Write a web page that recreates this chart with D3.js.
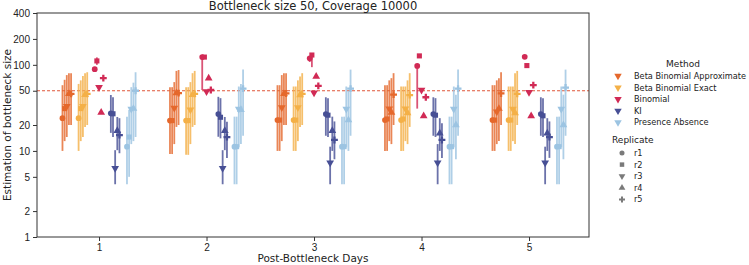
<!DOCTYPE html>
<html>
<head>
<meta charset="utf-8">
<script src="https://cdn.jsdelivr.net/npm/d3@7"></script>
<style>
  body { margin: 0; background: #fff; }
  svg { font-family: 'DejaVu Sans', sans-serif; }
  .axis text { font-size: 10px; fill: #222; }
  .axis path, .axis line { stroke: #333; }
</style>
</head>
<body>
<svg id="chart" width="749" height="265"></svg>
<script>
const days = [1, 2, 3, 4, 5];
const methods = ['Beta Binomial Approximate', 'Beta Binomial Exact', 'Binomial', 'KI', 'Presence Absence'];
const replicates = ['r1', 'r2', 'r3', 'r4', 'r5'];
const yTicks = [1, 2, 5, 10, 20, 50, 100, 200, 400];
const trueSize = 50;

// estimates [day][replicate]
const bbaEst = [[24, 31, 33, 46, 46], [22.5, 22.5, 31.5, 47, 47], [22.8, 22.8, 32, 46, 46.5], [22.8, 23.5, 31, 28, 45], [22.8, 22.8, 28.5, 31, 46.5]];
const bbaLo  = [[10, 13, 14.5, 20, 20], [9.2, 9.2, 12, 19, 20], [10, 10, 13, 20, 20], [10, 10, 13, 12, 20], [10, 10, 12, 13, 20]];
const bbaHi  = [[58, 67, 76, 80, 80], [55, 55, 63, 85, 87], [58, 58, 76, 80, 80], [58, 58, 66, 70, 80], [58, 58, 66, 70, 82]];

const bbeEst = [[24, 31, 33, 45, 46], [22.5, 22.5, 30, 45, 46], [22.8, 22.8, 32, 44.6, 46], [22.8, 23.5, 31, 27.5, 44.6], [22.8, 22.8, 30.6, 27.5, 46]];
const bbeLo  = [[10, 13, 14.5, 19, 20], [9, 9, 12, 19, 20], [10, 10, 13, 19, 20], [10, 10, 13, 12, 19], [10, 10, 13, 12, 20]];
const bbeHi  = [[60, 66, 74, 80, 82], [55, 55, 63, 80, 85], [56, 56, 66, 73, 80], [56, 56, 56, 66, 80], [56, 56, 56, 80, 85]];

const binEst = [[89, 111, 55, 28, 70], [123, 123, 49, 70, 51], [119, 130, 47.4, 73, 57], [97, 127, 51, 25.4, 42], [124, 98, 48, 25.4, 58]];
const binLo  = [[89, 100, 55, 28, 70], [51, 123, 49, 70, 51], [108, 94, 47.4, 73, 57], [31, 127, 51, 25.4, 42], [124, 98, 48, 25.4, 58]];
const binHi  = [[89, 122, 55, 28, 70], [123, 123, 49, 70, 51], [125, 137, 47.4, 73, 57], [97, 127, 51, 25.4, 42], [124, 98, 48, 25.4, 58]];

const kiEst = [[27.3, 27, 6.3, 17.2, 15.3], [26.8, 24.6, 6.3, 17.2, 14.5], [26.8, 26, 7.3, 17.2, 13.4], [26.8, 26, 7.3, 16, 13.4], [26.8, 25.6, 7.3, 16, 14.5]];
const kiLo  = [[16.2, 14.5, 4.1, 10.2, 9.4], [14.6, 14, 4.1, 10.2, 8.3], [15, 14.5, 4.1, 10, 8], [15, 14.5, 4.1, 10, 8.3], [15, 14.5, 4.1, 10, 8.3]];
const kiHi  = [[44.6, 42, 10.2, 24.8, 24], [42.5, 41, 10.2, 24.8, 21.8], [42, 41, 11.2, 25, 22], [42, 41, 12, 24, 21], [42, 41, 11.2, 24, 22]];

const paEst = [[11.2, 14.5, 30.7, 31, 50], [11.2, 11.2, 30.6, 30, 53], [11.2, 11.2, 30.6, 22.8, 53], [11.2, 11.2, 30.6, 20, 53], [11.2, 11.2, 30.6, 20, 54.5]];
const paLo  = [[4.1, 5, 12, 13, 14.5], [4.1, 4.1, 11, 12, 15], [4.1, 4.1, 11, 10, 15], [4.1, 4.1, 11, 8, 15], [4.1, 4.1, 11, 8, 15]];
const paHi  = [[25, 30, 55, 62, 82], [25, 25, 56, 60, 88], [25, 25, 56, 50, 88], [25, 25, 56, 45, 88], [25, 25, 56, 45, 88]];

const methodEst = [bbaEst, bbeEst, binEst, kiEst, paEst];
const methodLo = [bbaLo, bbeLo, binLo, kiLo, paLo];
const methodHi = [bbaHi, bbeHi, binHi, kiHi, paHi];
const colors = ['#e5682c', '#f4b047', '#d12a55', '#474f95', '#9cc4e2'];
const shapes = [d3.symbolCircle, d3.symbolSquare, 'down', d3.symbolTriangle, d3.symbolCross];

const margin = { top: 13, right: 160, bottom: 28, left: 37 };
const width = 749, height = 265;
const svg = d3.select('#chart');

const x = d3.scaleLinear().domain([0.423, 5.558]).range([margin.left, width - margin.right]);
const y = d3.scaleLog().domain([1, 400]).range([height - margin.bottom, margin.top]);

let rows = [];
methods.forEach((m, mi) => {
  days.forEach((d, di) => {
    replicates.forEach((r, ri) => {
      rows.push({
        method: mi, rep: ri,
        x: d + (mi - 2) * 0.15 + (ri - 2) * 0.02,
        est: methodEst[mi][di][ri], lo: methodLo[mi][di][ri], hi: methodHi[mi][di][ri]
      });
    });
  });
});

function symbolPath(ri, size) {
  const s = shapes[ri];
  if (s === 'down') return d3.symbol(d3.symbolTriangle, size)();
  return d3.symbol(s, size)();
}
function symbolRot(ri) { return shapes[ri] === 'down' ? ' rotate(180)' : ''; }

// dashed true size line
svg.append('line')
  .attr('x1', margin.left).attr('x2', width - margin.right)
  .attr('y1', y(trueSize)).attr('y2', y(trueSize))
  .attr('stroke', '#e0573a').attr('stroke-width', 1.1)
  .attr('stroke-dasharray', '3,2');

const g = svg.append('g');
g.selectAll('line.err')
  .data(rows)
  .join('line')
  .attr('class', 'err')
  .attr('x1', d => x(d.x)).attr('x2', d => x(d.x))
  .attr('y1', d => y(d.lo)).attr('y2', d => y(d.hi))
  .attr('stroke', d => colors[d.method])
  .attr('stroke-width', 1.8)
  .attr('opacity', 0.8);

g.selectAll('path.pt')
  .data(rows)
  .join('path')
  .attr('class', 'pt')
  .attr('d', d => symbolPath(d.rep, 26))
  .attr('transform', d => 'translate(' + x(d.x) + ',' + y(d.est) + ')' + symbolRot(d.rep))
  .attr('fill', d => colors[d.method]);

// axes
svg.append('g').attr('class', 'axis')
  .attr('transform', 'translate(' + margin.left + ',0)')
  .call(d3.axisLeft(y).tickValues(yTicks).tickFormat(d3.format('d')).tickSize(4).tickPadding(3));
svg.append('g').attr('class', 'axis')
  .attr('transform', 'translate(0,' + (height - margin.bottom) + ')')
  .call(d3.axisBottom(x).tickValues(days).tickFormat(d3.format('d')).tickSize(4).tickPadding(3));
svg.selectAll('.axis .domain').remove();

svg.append('rect')
  .attr('x', margin.left).attr('y', margin.top)
  .attr('width', width - margin.right - margin.left)
  .attr('height', height - margin.bottom - margin.top)
  .attr('fill', 'none').attr('stroke', '#333').attr('stroke-width', 1);

svg.append('text')
  .attr('x', (margin.left + width - margin.right) / 2).attr('y', 10)
  .attr('text-anchor', 'middle').attr('font-size', 11.5).attr('fill', '#222')
  .text('Bottleneck size 50, Coverage 10000');

svg.append('text')
  .attr('x', (margin.left + width - margin.right) / 2).attr('y', 262)
  .attr('text-anchor', 'middle').attr('font-size', 10.5).attr('fill', '#222')
  .text('Post-Bottleneck Days');

svg.append('text')
  .attr('transform', 'translate(11,' + ((margin.top + height - margin.bottom) / 2) + ') rotate(-90)')
  .attr('text-anchor', 'middle').attr('font-size', 10.5).attr('fill', '#222')
  .text('Estimation of bottleneck size');

// legend
const leg = svg.append('g').attr('font-size', 8.2).attr('fill', '#222');
leg.append('text').attr('x', 683).attr('y', 67).attr('text-anchor', 'middle').attr('font-size', 9).text('Method');
methods.forEach((m, i) => {
  const yy = 76 + i * 11.6;
  leg.append('path')
    .attr('d', d3.symbol(d3.symbolTriangle, 24)())
    .attr('transform', 'translate(618,' + yy + ') rotate(180)')
    .attr('fill', colors[i]);
  leg.append('text').attr('x', 634).attr('y', yy + 3).text(m);
});
leg.append('text').attr('x', 612).attr('y', 143).attr('font-size', 9).text('Replicate');
replicates.forEach((r, i) => {
  const yy = 153 + i * 11.6;
  leg.append('path')
    .attr('d', symbolPath(i, 20))
    .attr('transform', 'translate(622,' + yy + ')' + symbolRot(i))
    .attr('fill', '#7a7a7a');
  leg.append('text').attr('x', 634).attr('y', yy + 3).text(r);
});
</script>
</body>
</html>
